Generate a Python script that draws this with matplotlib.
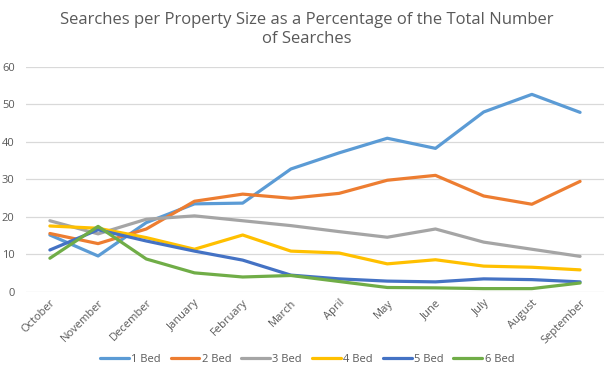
import matplotlib.pyplot as plt

# Datos
months = ["October", "November", "December", "January", "February", "March",
          "April", "May", "June", "July", "August", "September"]
bed1 = [15.2, 9.6, 18.5, 23.5, 23.7, 32.8, 37.1, 41.0, 38.3, 48.0, 52.7, 47.9]
bed2 = [15.6, 12.9, 16.8, 24.2, 26.1, 25.0, 26.3, 29.8, 31.1, 25.6, 23.4, 29.5]
bed3 = [19.0, 15.5, 19.4, 20.3, 19.0, 17.7, 16.1, 14.6, 16.8, 13.3, 11.4, 9.5]
bed4 = [17.6, 17.0, 14.5, 11.4, 15.2, 10.9, 10.4, 7.5, 8.6, 6.9, 6.6, 5.9]
bed5 = [11.2, 16.6, 13.6, 10.9, 8.5, 4.5, 3.5, 2.9, 2.7, 3.5, 3.3, 2.7]
bed6 = [9.0, 17.5, 8.8, 5.1, 4.0, 4.4, 2.8, 1.2, 1.1, 0.9, 0.9, 2.4]

series = [("1 Bed", bed1, "#5B9BD5"), ("2 Bed", bed2, "#ED7D31"),
          ("3 Bed", bed3, "#A5A5A5"), ("4 Bed", bed4, "#FFC000"),
          ("5 Bed", bed5, "#4472C4"), ("6 Bed", bed6, "#70AD47")]

plt.rcParams["font.family"] = ["Open Sans", "DejaVu Sans"]

fig = plt.figure(figsize=(6.14, 3.8), dpi=100)
ax = fig.add_axes([0.042, 0.2316, 0.942, 0.5921])

x = range(len(months))
for name, vals, col in series:
    ax.plot(x, vals, color=col, lw=2.3, label=name, solid_capstyle="round")

ax.set_xlim(-0.5, 11.5)
ax.set_ylim(0, 60)
ax.set_yticks(range(0, 61, 10))
ax.set_xticks(list(x))
ax.set_xticklabels(months, rotation=45, ha="right", rotation_mode="anchor")
ax.tick_params(length=0, colors="#595959", labelsize=8)
ax.tick_params(axis="y", pad=8)
ax.tick_params(axis="x", pad=4)
ax.grid(axis="y", color="#D9D9D9", lw=0.9)
ax.set_axisbelow(True)
for s in ax.spines.values():
    s.set_visible(False)

fig.text(0.5, 0.968, "Searches per Property Size as a Percentage of the Total Number\nof Searches",
         ha="center", va="top", fontsize=12, color="#595959", linespacing=1.25)

fig.legend(loc="center", bbox_to_anchor=(0.5, 0.055), ncol=6, frameon=False,
           fontsize=8, handlelength=2.6, columnspacing=0.9, handletextpad=0.2,
           labelcolor="#595959")

fig.savefig("out.png", dpi=100)
